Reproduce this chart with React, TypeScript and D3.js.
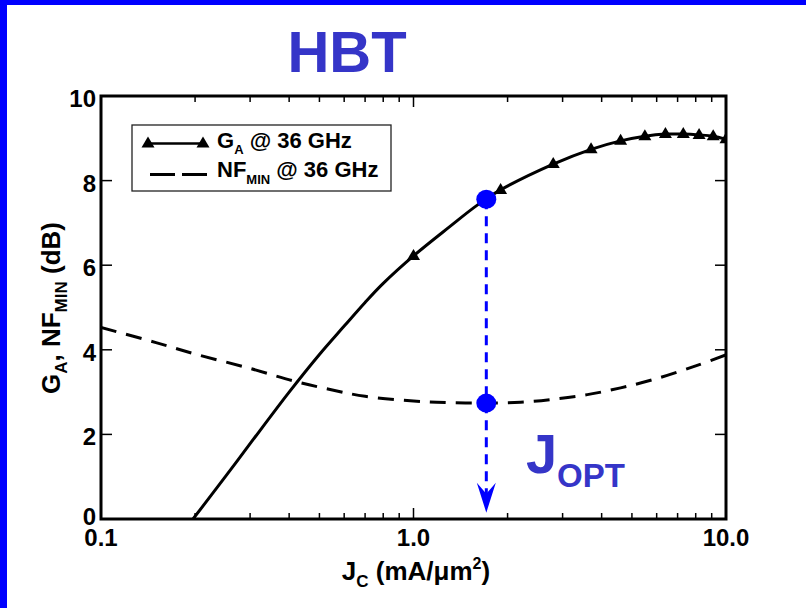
import React from "react";
import * as d3 from "d3";

// Collector current density (mA/µm²) and available gain G_A (dB) at 36 GHz
const gaJc = [0.197, 0.25, 0.3, 0.4, 0.5, 0.6, 0.7, 0.8, 1.0, 1.3, 1.6, 1.9, 2.8, 3.7, 4.6, 5.5, 6.4, 7.3, 8.2, 9.1, 10.0];
const gaDb = [0, 1.0, 1.78, 3.0, 3.89, 4.56, 5.12, 5.57, 6.22, 6.9, 7.42, 7.78, 8.39, 8.74, 8.94, 9.05, 9.1, 9.1, 9.08, 9.05, 8.98];
// Bias points that carry a triangle marker
const gaMarkerJc = [1.0, 1.9, 2.8, 3.7, 4.6, 5.5, 6.4, 7.3, 8.2, 9.1, 10.0];

// Minimum noise figure NF_MIN (dB) at 36 GHz
const nfJc = [0.1, 0.15, 0.2, 0.3, 0.42, 0.55, 0.7, 1.0, 1.3, 1.7, 2.2, 2.8, 3.6, 4.6, 6.0, 8.0, 10.0];
const nfDb = [4.53, 4.17, 3.9, 3.56, 3.25, 3.05, 2.9, 2.79, 2.75, 2.74, 2.76, 2.83, 2.94, 3.1, 3.32, 3.62, 3.88];

// Optimum bias point
const jOpt = 1.71;
const gaAtOpt = 7.56;
const nfAtOpt = 2.74;
const arrowTipDb = 0.15;

// Axis ticks
const xMajorTicks = [0.1, 1, 10];
const xTickLabels = ["0.1", "1.0", "10.0"];
const xMinorTicks = [0.2, 0.3, 0.4, 0.5, 0.6, 0.7, 0.8, 0.9, 2, 3, 4, 5, 6, 7, 8, 9];
const yTicks = [0, 2, 4, 6, 8, 10];

const W = 806;
const H = 608;
const L = 101, R = 726, T = 96, B = 519;
const FONT = "'Liberation Sans', Arial, Helvetica, sans-serif";
const TITLE_BLUE = "#3535c8";
const MARK_BLUE = "#0000ff";

const x = d3.scaleLog().domain([0.1, 10]).range([L, R]);
const y = d3.scaleLinear().domain([0, 10]).range([B, T]);

const triPath = "M0,-7L6.5,4L-6.5,4Z";

export default function App() {
  const gaPts: [number, number][] = gaJc.map((j, i) => [j, gaDb[i]]);
  const nfPts: [number, number][] = nfJc.map((j, i) => [j, nfDb[i]]);
  const lineGen = d3
    .line<[number, number]>()
    .x((d) => x(d[0]))
    .y((d) => y(d[1]))
    .curve(d3.curveCatmullRom.alpha(0.5));

  const markers = gaMarkerJc.map((j) => {
    const i = gaJc.indexOf(j);
    return [j, gaDb[i]] as [number, number];
  });

  const ox = x(jOpt);
  const yTop = y(gaAtOpt);
  const yNf = y(nfAtOpt);
  const yTip = y(arrowTipDb);

  return (
    <svg
      width={W}
      height={H}
      style={{ position: "absolute", left: 0, top: 0, background: "#fff" }}
      fontFamily={FONT}
    >
      <defs>
        <clipPath id="plotClip">
          <rect x={L} y={T} width={R - L} height={B - T} />
        </clipPath>
      </defs>
      <rect x={0} y={0} width={W} height={H} fill="#fff" />
      {/* slide frame */}
      <rect x={0} y={0} width={W} height={5} fill={MARK_BLUE} />
      <rect x={0} y={0} width={7} height={H} fill={MARK_BLUE} />

      <text x={347} y={72} textAnchor="middle" fontSize={58} fontWeight={700} fill={TITLE_BLUE}>
        HBT
      </text>

      {/* curves */}
      <g clipPath="url(#plotClip)">
        <path d={lineGen(nfPts) || ""} fill="none" stroke="#000" strokeWidth={3} strokeDasharray="16,10" />
        <path d={lineGen(gaPts) || ""} fill="none" stroke="#000" strokeWidth={3} />
        {markers.map((m, i) => (
          <path key={i} d={triPath} transform={`translate(${x(m[0])},${y(m[1])})`} fill="#000" />
        ))}
      </g>

      {/* optimum current density annotation */}
      <line x1={ox} x2={ox} y1={yTop} y2={yTip - 18} stroke={MARK_BLUE} strokeWidth={3} strokeDasharray="10,7" />
      <path
        d={`M${ox},${yTip}L${ox - 9.5},${yTip - 30}L${ox},${yTip - 19}L${ox + 9.5},${yTip - 30}Z`}
        fill={MARK_BLUE}
      />
      <ellipse cx={ox} cy={yTop} rx={10} ry={9.5} fill={MARK_BLUE} />
      <ellipse cx={ox} cy={yNf} rx={10} ry={9.5} fill={MARK_BLUE} />
      <text x={526} y={473} fontSize={56} fontWeight={700} fill={TITLE_BLUE}>
        J
      </text>
      <text x={557} y={487} fontSize={33} fontWeight={700} fill={TITLE_BLUE}>
        OPT
      </text>

      {/* ticks */}
      {xMinorTicks.map((t) => (
        <g key={"mx" + t}>
          <line x1={x(t)} x2={x(t)} y1={B} y2={B - 6} stroke="#000" strokeWidth={1.5} />
          <line x1={x(t)} x2={x(t)} y1={T} y2={T + 6} stroke="#000" strokeWidth={1.5} />
        </g>
      ))}
      {xMajorTicks.map((t, i) => (
        <g key={"Mx" + t}>
          <line x1={x(t)} x2={x(t)} y1={B} y2={B - 11} stroke="#000" strokeWidth={1.5} />
          <line x1={x(t)} x2={x(t)} y1={T} y2={T + 11} stroke="#000" strokeWidth={1.5} />
          <text x={x(t)} y={546} textAnchor="middle" fontSize={24} fontWeight={700} fill="#000">
            {xTickLabels[i]}
          </text>
        </g>
      ))}
      {yTicks.map((t) => (
        <g key={"y" + t}>
          <line x1={L} x2={L + 11} y1={y(t)} y2={y(t)} stroke="#000" strokeWidth={1.5} />
          <line x1={R} x2={R - 11} y1={y(t)} y2={y(t)} stroke="#000" strokeWidth={1.5} />
          <text x={96} y={y(t) + (t === 0 ? 6 : 11)} textAnchor="end" fontSize={24} fontWeight={700} fill="#000">
            {t}
          </text>
        </g>
      ))}

      {/* plot frame */}
      <rect x={L} y={T} width={R - L} height={B - T} fill="none" stroke="#000" strokeWidth={3} />

      {/* axis titles */}
      <text x={416} y={580} textAnchor="middle" fontSize={26} fontWeight={700} fill="#000">
        J
        <tspan fontSize={17} dy={7}>C</tspan>
        <tspan dy={-7}> (mA/μm</tspan>
        <tspan fontSize={16} dy={-11}>2</tspan>
        <tspan dy={11}>)</tspan>
      </text>
      <text
        transform="translate(60,308) rotate(-90)"
        textAnchor="middle"
        fontSize={26}
        fontWeight={700}
        fill="#000"
      >
        G
        <tspan fontSize={17} dy={7}>A</tspan>
        <tspan dy={-7}>, NF</tspan>
        <tspan fontSize={17} dy={7}>MIN</tspan>
        <tspan dy={-7}> (dB)</tspan>
      </text>

      {/* legend */}
      <rect x={132} y={125} width={259} height={66} fill="#fff" stroke="#222" strokeWidth={1.3} />
      <line x1={148} x2={203} y1={143.5} y2={143.5} stroke="#000" strokeWidth={2.5} />
      <path d={triPath} transform="translate(148,143.5)" fill="#000" />
      <path d={triPath} transform="translate(203,143.5)" fill="#000" />
      <text x={217} y={148} fontSize={22} fontWeight={700} fill="#000">
        G
        <tspan fontSize={13} dy={6}>A</tspan>
        <tspan dy={-6}> @ 36 GHz</tspan>
      </text>
      <line x1={150} x2={207} y1={174.5} y2={174.5} stroke="#000" strokeWidth={3} strokeDasharray="25,7" />
      <text x={217} y={177} fontSize={22} fontWeight={700} fill="#000">
        NF
        <tspan fontSize={13} dy={7}>MIN</tspan>
        <tspan dy={-7}> @ 36 GHz</tspan>
      </text>
    </svg>
  );
}
